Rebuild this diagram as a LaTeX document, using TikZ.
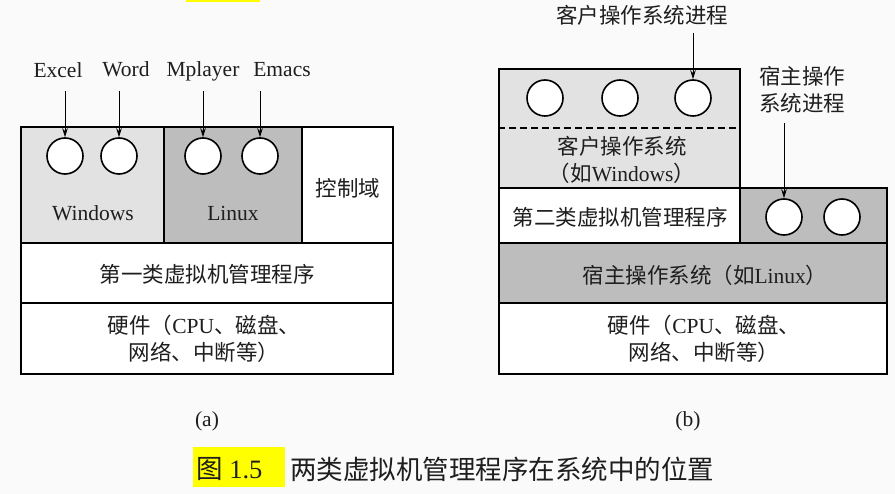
\documentclass[tikz,border=0pt]{standalone}
\usepackage{fontspec}
\setmainfont{Liberation Serif}
\newfontfamily\cjk{Noto Sans CJK SC}
\usetikzlibrary{arrows.meta}
\definecolor{bgc}{HTML}{FAFAFA}
\definecolor{lightg}{HTML}{E2E2E2}
\definecolor{darkg}{HTML}{BDBDBD}
\definecolor{txt}{HTML}{1E1E1E}
\definecolor{hl}{HTML}{FFFF00}
\tikzset{
  box/.style={draw=black, line width=1.8pt, inner sep=0pt, rectangle},
  proc/.style={draw=black, fill=white, line width=1.6pt, circle, inner sep=0pt, minimum size=36pt},
  lbl/.style={text=txt, inner sep=0pt, font=\fontsize{21.5}{27}\selectfont, align=center},
  arr/.style={line width=0.9pt, -{Stealth[length=9pt,width=5.5pt]}},
}
\begin{document}
\begin{tikzpicture}[x=1pt,y=-1pt]
\fill[bgc] (0,0) rectangle (895,494);
\useasboundingbox (0,0) rectangle (895,494);
\fill[hl] (186,0) rectangle (260,2.5);

% ---------- (a) ----------
\node[box, fill=lightg, minimum width=143pt, minimum height=116pt] (win) at (92.5,185) {};
\node[box, fill=darkg, minimum width=138pt, minimum height=116pt] (lin) at (233,185) {};
\node[box, fill=white, minimum width=91pt, minimum height=116pt] (ctl) at (347.5,185) {};
\node[box, fill=white, minimum width=372pt, minimum height=60pt] (hyp1) at (207,273) {};
\node[box, fill=white, minimum width=372pt, minimum height=71pt] (hw1) at (207,338.5) {};

\node[lbl] (winl) at (93,213) {Windows};
\node[lbl] (linl) at (233,213) {Linux};
\node[lbl] (ctll) at (348,188) {\cjk 控制域};
\node[lbl] (hyp1l) at (207,274) {\cjk 第一类虚拟机管理程序};
\node[lbl] (hw1l) at (204,339) {{\cjk 硬件（}CPU{\cjk 、磁盘、}\\{\cjk 网络、中断等）}};

\node[proc] (c1) at (65,156) {};
\node[proc] (c2) at (119,156) {};
\node[proc] (c3) at (203,156) {};
\node[proc] (c4) at (260,156) {};

\node[lbl] (excel) at (58,70) {Excel};
\node[lbl] (word) at (126,69) {Word};
\node[lbl] (mplayer) at (203,71) {Mplayer};
\node[lbl] (emacs) at (282,70) {Emacs};

\coordinate (s1) at (65,91);
\coordinate (s2) at (119,91);
\coordinate (s3) at (203,91);
\coordinate (s4) at (260,91);
\draw[arr] (s1) -- (c1);
\draw[arr] (s2) -- (c2);
\draw[arr] (s3) -- (c3);
\draw[arr] (s4) -- (c4);

% ---------- (b) ----------
\node[box, fill=lightg, minimum width=241pt, minimum height=119pt] (guest) at (619.5,128.5) {};
\draw[line width=1.6pt, dash pattern=on 7pt off 4pt] (guest.west |- 0,128) -- (guest.east |- 0,128);
\node[box, fill=white, minimum width=241pt, minimum height=55pt] (hvm2) at (619.5,215.5) {};
\node[box, fill=darkg, minimum width=147pt, minimum height=55pt] (hostp) at (813.5,215.5) {};
\node[box, fill=darkg, minimum width=388pt, minimum height=60pt] (hostos) at (693,273) {};
\node[box, fill=white, minimum width=388pt, minimum height=71pt] (hw2) at (693,338.5) {};

\node[lbl] (guestl) at (622,160) {\cjk 客户操作系统\\{\cjk （如}Windows{\cjk ）}};
\node[lbl] (hvm2l) at (620,217) {\cjk 第二类虚拟机管理程序};
\node[lbl] (hostosl) at (705,275) {{\cjk 宿主操作系统（如}Linux{\cjk ）}};
\node[lbl] (hw2l) at (704,339) {{\cjk 硬件（}CPU{\cjk 、磁盘、}\\{\cjk 网络、中断等）}};

\node[proc] (g1) at (545,98) {};
\node[proc] (g2) at (620,98) {};
\node[proc] (g3) at (693,98) {};
\node[proc] (h1) at (784,217) {};
\node[proc] (h2) at (842,217) {};

\node[lbl] (gpl) at (642,15) {\cjk 客户操作系统进程};
\node[lbl] (hpl) at (802,90) {\cjk 宿主操作\\\cjk 系统进程};

\coordinate (s5) at (693,33);
\coordinate (s6) at (784,123);
\draw[arr] (s5) -- (g3);
\draw[arr] (s6) -- (h1);

% ---------- captions ----------
\node[lbl] (capa) at (207,421) {(a)};
\node[lbl] (capb) at (688,421) {(b)};
\fill[hl] (193,447) rectangle (285,487);
\node[text=txt, inner sep=0pt, anchor=west, font=\fontsize{26.5}{30}\selectfont] (fig) at (196,469) {{\cjk 图} 1.5};
\node[text=txt, inner sep=0pt, anchor=west, font=\fontsize{26.5}{30}\selectfont] (cap) at (290,469) {\cjk 两类虚拟机管理程序在系统中的位置};
\end{tikzpicture}
\end{document}
